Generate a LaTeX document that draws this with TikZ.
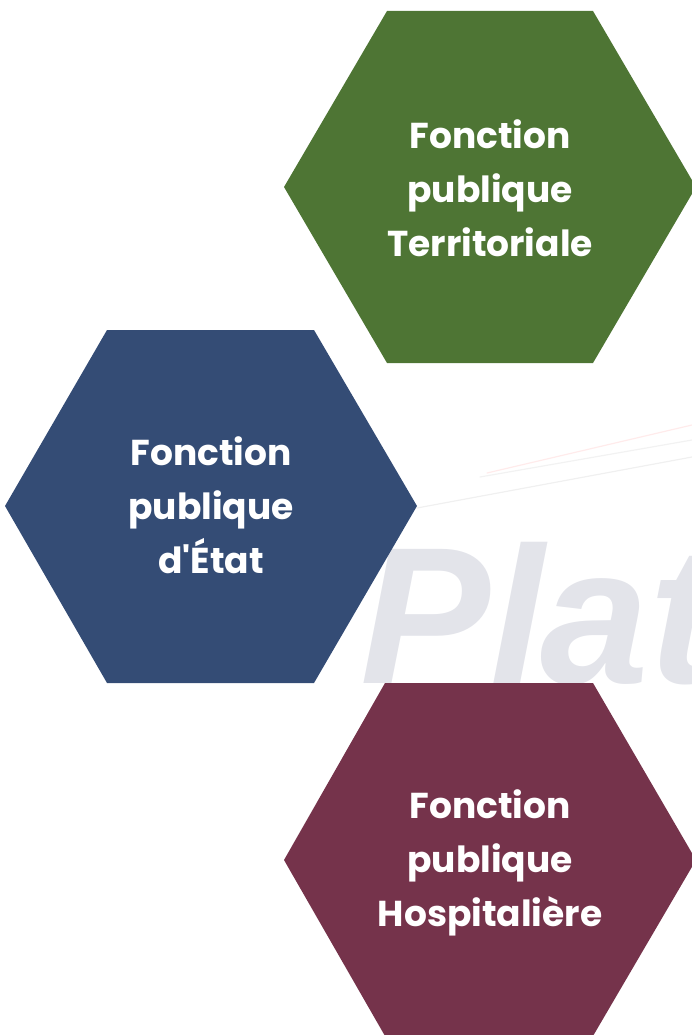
\documentclass[tikz,border=0pt]{standalone}
\usepackage{fontspec}
\setmainfont{Poppins}
\newfontfamily\markfont{Liberation Sans}

\definecolor{terrgreen}{HTML}{4E7534}
\definecolor{etatblue}{HTML}{344C75}
\definecolor{hospred}{HTML}{75334B}
\definecolor{markgray}{HTML}{E3E4EA}

\tikzset{
  hexlabel/.style={text=white, align=center, font=\bfseries\fontsize{36}{54}\selectfont},
  swoosh/.style={line width=1.2pt, line cap=round}
}

\begin{document}
\begin{tikzpicture}[x=1pt,y=-1pt]
			\useasboundingbox (0,0) rectangle (692,1035);
			\clip (0,0) rectangle (692,1035);

			% faint logo in the background
			\node[anchor=base west, inner sep=0pt, text=markgray, font=\markfont\bfseries\itshape\fontsize{195}{195}\selectfont] (mark) at (360,683) {Pl\kern-4pt at};
			\draw[swoosh, gray!12] (417,508) -- (692,457);
			\draw[swoosh, gray!10] (480,477) -- (692,440);
			\draw[swoosh, red!8] (487,473) -- (692,425);

			% Territoriale
			\fill[terrgreen] (387,11) -- (593,11) -- (696,187) -- (593,363) -- (387,363) -- (284,187) -- cycle;
			\node[hexlabel] (fpt) at (490,188) {Fonction\\publique\\Territoriale};

			% Etat
			\fill[etatblue] (107,330) -- (314,330) -- (417,506) -- (314,683) -- (107,683) -- (5,506) -- cycle;
			\node[hexlabel] (fpe) at (211,505) {Fonction\\publique\\d\textquotesingle État};

			% Hospitaliere
			\fill[hospred] (385,683) -- (593,683) -- (696,860) -- (593,1036) -- (385,1036) -- (284,860) -- cycle;
			\node[hexlabel] (fph) at (490,863) {Fonction\\publique\\Hospitalière};
		\end{tikzpicture}
\end{document}
